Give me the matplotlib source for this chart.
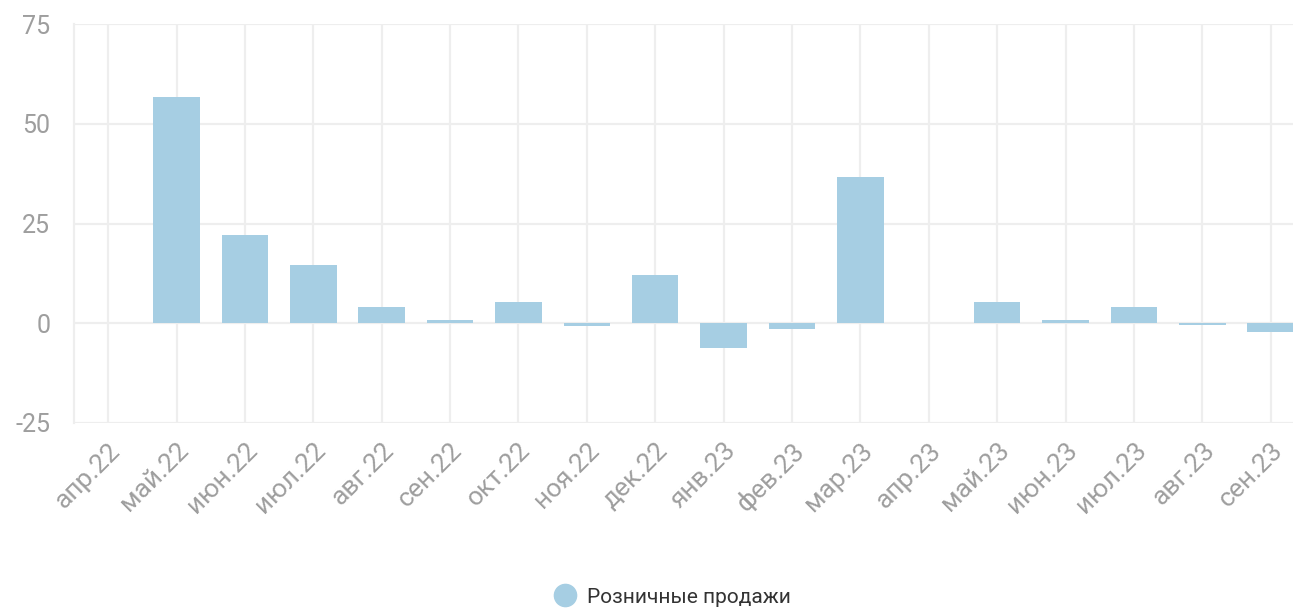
import numpy as np
import matplotlib.pyplot as plt
from matplotlib.lines import Line2D

plt.rcParams['font.family'] = ['Roboto', 'DejaVu Sans']
plt.rcParams['axes.unicode_minus'] = False

# Данные: розничные продажи по месяцам
months = ['апр.22', 'май.22', 'июн.22', 'июл.22', 'авг.22', 'сен.22',
          'окт.22', 'ноя.22', 'дек.22', 'янв.23', 'фев.23', 'мар.23',
          'апр.23', 'май.23', 'июн.23', 'июл.23', 'авг.23', 'сен.23']
sales = [np.nan, 56.8, 22.2, 14.7, 4.1, 0.7,
         5.4, -0.6, 12.2, -6.1, -1.4, 36.7,
         np.nan, 5.4, 0.7, 4.1, -0.5, -2.1]
series_name = 'Розничные продажи'
yticks = [-25, 0, 25, 50, 75]

bar_color = '#a6cee3'
grid_color = '#eeeeee'
label_color = '#9e9e9e'

fig = plt.figure(figsize=(12.93, 6.08), dpi=100)
# ось немного выходит за правый край, как в оригинале
ax = fig.add_axes([0.0572, 0.3043, 0.952, 0.6562])

x = np.arange(len(months))
ax.bar(x, sales, width=0.68, color=bar_color, zorder=3)

ax.set_xlim(-0.5, len(months) - 0.5)
ax.set_ylim(-25, 75)
ax.set_yticks(yticks)
ax.set_xticks(x)
ax.set_xticklabels(months, rotation=45, ha='right', va='top',
                   rotation_mode='anchor', fontsize=19)

ax.grid(True, color=grid_color, linewidth=1.6, zorder=0)
ax.tick_params(length=0, colors=label_color)
ax.tick_params(axis='y', pad=17, labelsize=18)
ax.tick_params(axis='x', pad=11)

for side in ['top', 'right', 'bottom']:
    ax.spines[side].set_visible(False)
ax.spines['left'].set_color(grid_color)
ax.spines['left'].set_linewidth(1.6)

# легенда внизу по центру
handle = Line2D([], [], marker='o', linestyle='none', markersize=16,
                markerfacecolor=bar_color, markeredgecolor=bar_color)
fig.legend([handle], [series_name], loc='center',
           bbox_to_anchor=(0.52, 0.018), frameon=False,
           fontsize=15, labelcolor='#333333',
           handlelength=1.0, handletextpad=0.55)

fig.savefig('out.png', dpi=100)
